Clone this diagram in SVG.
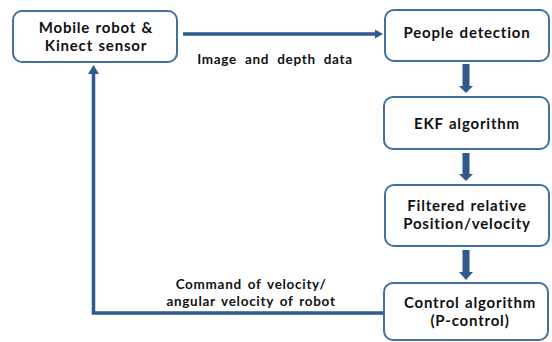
<svg xmlns="http://www.w3.org/2000/svg" width="552" height="342" viewBox="0 0 552 342">
<style>
.box{fill:#fff;stroke:#41719C;stroke-width:2}
.t{font-family:Lato,"Open Sans",sans-serif;font-weight:bold;font-size:15px;fill:#111;text-anchor:middle;dominant-baseline:central;word-spacing:1px;letter-spacing:0.8px}
.l{font-family:Lato,"Open Sans",sans-serif;font-weight:bold;font-size:13.5px;fill:#111;text-anchor:middle;dominant-baseline:central;word-spacing:2px;letter-spacing:0.7px}
.ln{stroke:#2E5A8C;stroke-width:3.5;fill:none}
.ar{fill:#2E5A8C}
</style>
<rect width="552" height="342" fill="#fff"/>
<g id="connectors">
<line class="ln" x1="183" y1="34" x2="376" y2="34"/>
<polygon class="ar" points="375,29.5 383,34 375,38.5"/>
<rect class="ar" x="462.5" y="64" width="7" height="22"/>
<polygon class="ar" points="459,86 473,86 466,93"/>
<rect class="ar" x="462.5" y="153" width="7" height="21"/>
<polygon class="ar" points="459,174 473,174 466,181"/>
<rect class="ar" x="462.5" y="250" width="7" height="22"/>
<polygon class="ar" points="459,272 473,272 466,280"/>
<polyline class="ln" points="384,313 93.5,313 93.5,72"/>
<polygon class="ar" points="88,74 99,74 93.5,65"/>
</g>
<g id="label-image"><text class="l" x="275" y="59" style="word-spacing:4px">Image and depth data</text></g>
<g id="label-command"><text class="l" x="251" y="284">Command of velocity/</text><text class="l" x="251" y="300.5">angular velocity of robot</text></g>
<g id="mobile-robot"><rect class="box" x="13" y="11" width="164" height="51" rx="9"/><text class="t" x="96" y="27">Mobile robot &amp;</text><text class="t" x="96" y="45">Kinect sensor</text></g>
<g id="people-detection"><rect class="box" x="385" y="10" width="164" height="51" rx="9"/><text class="t" x="467" y="32">People detection</text></g>
<g id="ekf"><rect class="box" x="384" y="97" width="165" height="52" rx="9"/><text class="t" x="467" y="123">EKF algorithm</text></g>
<g id="filtered"><rect class="box" x="385" y="185" width="164" height="61" rx="9"/><text class="t" x="467" y="205">Filtered relative</text><text class="t" x="467" y="223">Position/velocity</text></g>
<g id="control"><rect class="box" x="384" y="283" width="164" height="57" rx="9"/><text class="t" x="470" y="302">Control algorithm</text><text class="t" x="470" y="320">(P-control)</text></g>
</svg>
